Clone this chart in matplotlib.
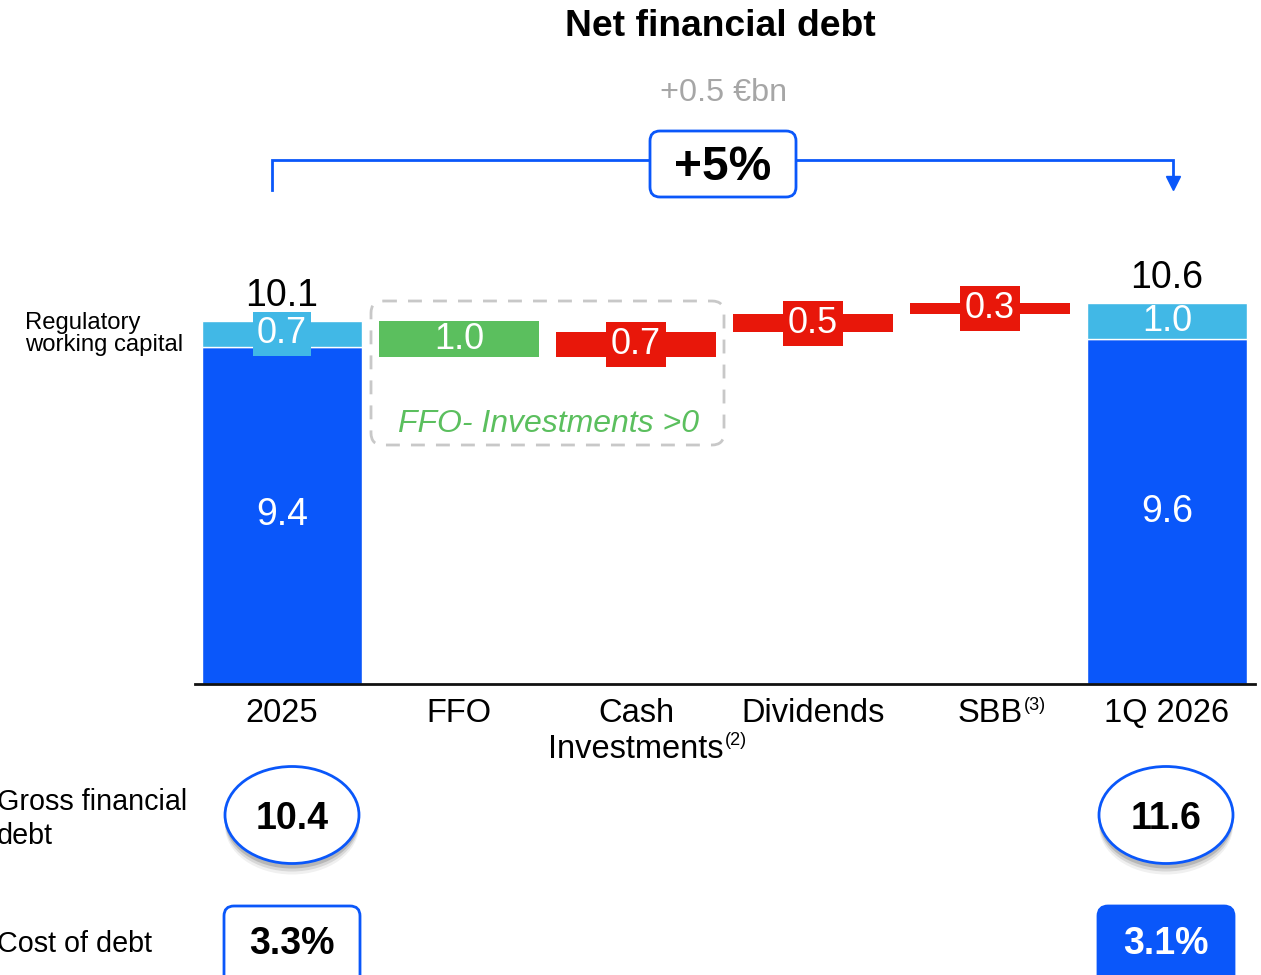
import matplotlib.pyplot as plt
from matplotlib.patches import Ellipse, FancyBboxPatch
from matplotlib.transforms import blended_transform_factory

plt.rcParams['font.family'] = ['Liberation Sans', 'DejaVu Sans']

# data
categories = ['2025', 'FFO', 'Cash', 'Dividends', 'SBB', '1Q 2026']
second_line = ['', '', 'Investments', '', '', '']
footnotes = ['', '', '(2)', '', '(3)', '']
core_debt = [9.4, 9.6]          # net debt excl. regulatory working capital
reg_wc = [0.7, 1.0]             # regulatory working capital
steps = [-1.0, 0.7, 0.5, 0.3]   # FFO, Cash Investments, Dividends, SBB
gross_debt = ['10.4', '11.6']
cost_of_debt = ['3.3%', '3.1%']

BLUE = '#0A57FA'
LIGHT = '#41B8E6'
GREEN = '#5BBF5E'
RED = '#E8170A'

W, H = 1261, 975
fig = plt.figure(figsize=(W / 100, H / 100), dpi=100)

# main axes: baseline at y=684 px, 35.9 px per €bn, 177 px per category
ax = fig.add_axes([195 / W, (H - 684) / H, (1255 - 195) / W, 684 / H])
ax.set_ylim(0, 684 / 35.9)
ax.set_xlim((195 - 282) / 177, (1255 - 282) / 177)
for s in ['top', 'right', 'left']:
    ax.spines[s].set_visible(False)
ax.spines['bottom'].set_linewidth(2)
ax.spines['bottom'].set_color('#111111')
ax.set_xticks([])
ax.set_yticks([])
ax.patch.set_alpha(0)

bw = 0.9
ends = [0, len(categories) - 1]
totals = [c + r for c, r in zip(core_debt, reg_wc)]

# start / end stacked bars
ax.bar(ends, core_debt, width=bw, color=BLUE, edgecolor='white', linewidth=1)
ax.bar(ends, reg_wc, bottom=core_debt, width=bw, color=LIGHT, edgecolor='white', linewidth=1)
for i, c, r, t in zip(ends, core_debt, reg_wc, totals):
    ax.text(i, c / 2, f'{c:.1f}', color='white', fontsize=27, ha='center', va='center')
    ax.text(i, t + 0.72, f'{t:.1f}', color='black', fontsize=27, ha='center', va='center')
# boxed label on the thin 2025 segment, plain on 1Q 2026
ax.text(ends[0], core_debt[0] + reg_wc[0] / 2, f'{reg_wc[0]:.1f}', color='white', fontsize=26,
        ha='center', va='center',
        bbox=dict(boxstyle='square,pad=0.12', fc=LIGHT, ec='none'))
ax.text(ends[1], core_debt[1] + reg_wc[1] / 2, f'{reg_wc[1]:.1f}', color='white', fontsize=26,
        ha='center', va='center')

# floating steps
level = totals[0]
for k, d in enumerate(steps, start=1):
    lo, hi = min(level, level + d), max(level, level + d)
    col = GREEN if d < 0 else RED
    ax.bar(k, hi - lo, bottom=lo, width=bw, color=col, linewidth=0)
    if d < 0:
        ax.text(k, (lo + hi) / 2, f'{abs(d):.1f}', color='white', fontsize=26,
                ha='center', va='center')
    else:
        ax.text(k, (lo + hi) / 2, f'{abs(d):.1f}', color='white', fontsize=26,
                ha='center', va='center',
                bbox=dict(boxstyle='square,pad=0.14', fc=col, ec='none'))
    level += d

# overlay in pixel coordinates for annotations
ov = fig.add_axes([0, 0, 1, 1])
ov.set_xlim(0, W)
ov.set_ylim(H, 0)
ov.axis('off')
ov.patch.set_alpha(0)
tr = blended_transform_factory(ax.transData, ov.transData)
fig.canvas.draw()
px = [ax.transData.transform((i, 0))[0] for i in range(len(categories))]

# category labels (base text centred, footnote marker appended)
for i, (c, l2, fn) in enumerate(zip(categories, second_line, footnotes)):
    t = ov.text(i, 714, c, transform=tr, fontsize=23.5, ha='center', va='center')
    if l2:
        t = ov.text(i, 749, l2, transform=tr, fontsize=23.5, ha='center', va='center')
    if fn:
        ov.annotate(fn, xy=(1, 1), xycoords=t, xytext=(1, 1), textcoords='offset points',
                    fontsize=13, ha='left', va='top')

# title and growth bracket
ov.text(720, 26, 'Net financial debt', fontsize=26.8, fontweight='bold', ha='center', va='center')
ov.text(724, 93, '+0.5 €bn', fontsize=23.3, color='#A6A6A6', ha='center', va='center')
ov.plot([px[0] - 10, px[0] - 10, px[-1] + 6, px[-1] + 6], [190, 160, 160, 180],
        color=BLUE, lw=2, solid_joinstyle='miter')
ov.plot([px[-1] + 6], [183], marker='v', color=BLUE, markersize=10)
ov.add_patch(FancyBboxPatch((650, 131), 146, 66, boxstyle='round,pad=0,rounding_size=10',
                            fc='white', ec=BLUE, lw=2, zorder=3))
ov.text(723, 168, '+5%', fontsize=34.5, fontweight='bold', ha='center', va='center', zorder=4)

# FFO - investments box
ov.add_patch(FancyBboxPatch((371, 301), 353, 144, boxstyle='round,pad=0,rounding_size=12',
                            fc='none', ec='#C8C8C8', lw=2, ls=(0, (5, 4))))
ov.text(548, 424, 'FFO- Investments >0', fontsize=23, style='italic', color=GREEN,
        ha='center', va='center')

# side labels
ov.text(25, 334, 'Regulatory\nworking capital', fontsize=17.2, ha='left', va='center', linespacing=0.95)
ov.text(-3, 819, 'Gross financial\ndebt', fontsize=20.7, ha='left', va='center', linespacing=1.25)
ov.text(-3, 944, 'Cost of debt', fontsize=20.7, ha='left', va='center')

# gross debt ellipses and cost of debt boxes
for j, i in enumerate(ends):
    cx = px[i] + (10 if j == 0 else -1)
    for a, dy in [(0.06, 11), (0.10, 8), (0.15, 5)]:
        ov.add_patch(Ellipse((cx, 815 + dy), 134, 97, fc='black', ec='none', alpha=a, zorder=2))
    ov.add_patch(Ellipse((cx, 815), 134, 97, fc='white', ec=BLUE, lw=2, zorder=3))
    ov.text(cx, 819, gross_debt[j], fontsize=27, fontweight='bold', ha='center', va='center', zorder=4)
    filled = j == 1
    ov.add_patch(FancyBboxPatch((cx - 68, 906), 136, 90, boxstyle='round,pad=0,rounding_size=10',
                                fc=BLUE if filled else 'white', ec=BLUE, lw=2, zorder=3))
    ov.text(cx, 944, cost_of_debt[j], fontsize=27, fontweight='bold',
            color='white' if filled else 'black', ha='center', va='center', zorder=4)

fig.savefig('out.png', dpi=100)
